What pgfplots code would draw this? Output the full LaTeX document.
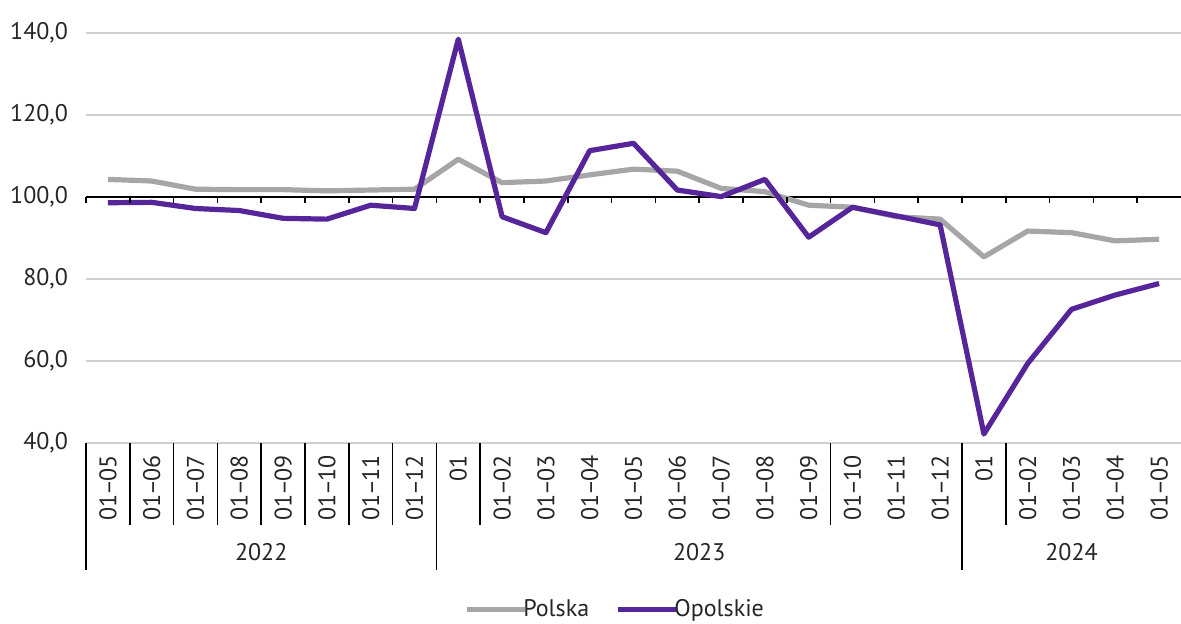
\documentclass[border=0pt]{standalone}
\usepackage{fontspec}
\setmainfont{PT Sans}
\usepackage{pgfplots}
\usepackage{pgfplotstable}
\pgfplotsset{compat=1.18}
\definecolor{polska}{HTML}{A6A6A6}
\definecolor{opolskie}{HTML}{56259A}
\definecolor{gridgray}{HTML}{D0D0D0}
\newcommand{\lblfont}{\fontsize{12}{14}\selectfont}
\newcommand{\dd}{\kern-0.8pt--\kern-0.8pt}

% x = category centre (0.5 ... 24.5)
\pgfplotstableread{
x     polska  opolskie
0.5   104.3   98.6
1.5   103.9   98.7
2.5   101.9   97.2
3.5   101.8   96.7
4.5   101.8   94.8
5.5   101.5   94.6
6.5   101.7   98.0
7.5   101.9   97.2
8.5   109.2   138.5
9.5   103.5   95.2
10.5  103.9   91.3
11.5  105.4   111.3
12.5  106.8   113.1
13.5  106.3   101.7
14.5  102.1   100.1
15.5  101.3   104.3
16.5  98.0    90.2
17.5  97.5    97.5
18.5  95.2    95.4
19.5  94.6    93.2
20.5  85.4    42.2
21.5  91.7    59.4
22.5  91.3    72.6
23.5  89.3    76.1
24.5  89.7    78.9
}\datatable

\begin{document}
\begin{tikzpicture}
\begin{axis}[
    at={(0,0)}, anchor=south west,
    scale only axis, width=547.5pt, height=205pt,
    xmin=0, xmax=25, ymin=40, ymax=140,
    axis line style={draw=none},
    ytick={40,60,80,120,140},
    extra y ticks={100},
    extra y tick style={major grid style={black, line width=1pt}},
    ymajorgrids,
    major grid style={gridgray, line width=0.75pt},
    tick style={draw=none},
    /pgf/number format/.cd, fixed, fixed zerofill, precision=1, use comma, assume math mode=true,
    /pgfplots/.cd,
    yticklabel style={font=\lblfont, text=black!85, xshift=-5.5pt},
    xtick={0.5,1.5,...,24.5},
    xticklabels={01\dd05,01\dd06,01\dd07,01\dd08,01\dd09,01\dd10,01\dd11,01\dd12,
                 01,01\dd02,01\dd03,01\dd04,01\dd05,01\dd06,01\dd07,01\dd08,01\dd09,01\dd10,01\dd11,01\dd12,
                 01,01\dd02,01\dd03,01\dd04,01\dd05},
    xticklabel style={font=\lblfont, text=black!85, rotate=90, anchor=east, inner sep=0pt},
    xticklabel shift=6pt,
    legend columns=2,
    legend style={draw=none, at={(axis description cs:0.484,-0.407)}, anchor=center,
                  font=\lblfont, text=black!85, inner sep=0pt,
                  /tikz/every even column/.append style={column sep=11pt}},
    legend cell align=left,
    legend image code/.code={\draw[#1] (0pt,0pt) -- (29pt,0pt);},
    clip=false,
]
\addplot[polska, line width=2.6pt, line join=round] table[x=x, y=polska] {\datatable};
\addlegendentry{\hspace{-4pt}Polska}
\addplot[opolskie, line width=2.6pt, line join=round] table[x=x, y=opolskie] {\datatable};
\addlegendentry{\hspace{-4pt}Opolskie}

% tick marks on the 100 line
\pgfplotsinvokeforeach{0,...,24}{
    \draw[black, line width=0.8pt] (axis cs:#1,100) -- ++(0pt,-3pt);
}
% category separators below the plot
\pgfplotsinvokeforeach{1,...,7,9,...,19,21,...,24}{
    \draw[black, line width=0.8pt] (axis cs:#1,40) -- ++(0pt,-41pt);
}
\pgfplotsinvokeforeach{0,8,20}{
    \draw[black, line width=0.8pt] (axis cs:#1,40) -- ++(0pt,-63.5pt);
}
\node[font=\lblfont, text=black!85] at (axis cs:4,40) [yshift=-54.5pt] {2022};
\node[font=\lblfont, text=black!85] at (axis cs:14,40) [yshift=-54.5pt] {2023};
\node[font=\lblfont, text=black!85] at (axis cs:22.5,40) [yshift=-54.5pt] {2024};
\end{axis}
\pgfresetboundingbox
\path[use as bounding box] (-43pt,-90pt) rectangle (547.5pt,221.5pt);
\end{tikzpicture}
\end{document}
